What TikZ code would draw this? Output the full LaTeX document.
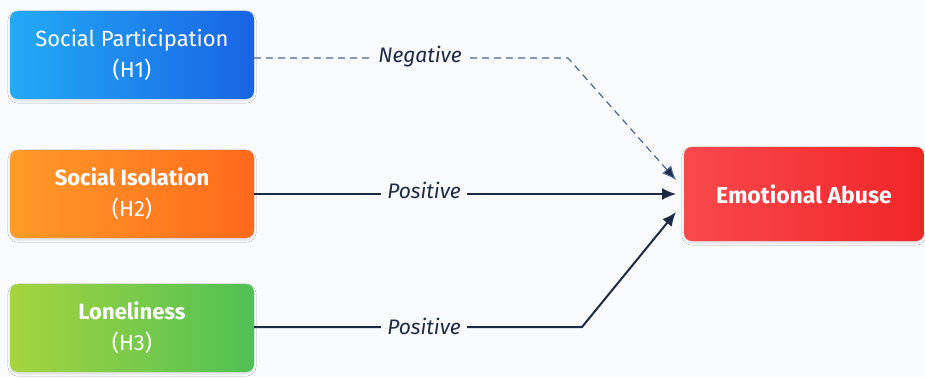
\documentclass[tikz,border=0pt]{standalone}
\usepackage{fontspec}
\setmainfont{Fira Sans}
\usetikzlibrary{arrows.meta,shadows.blur}
\definecolor{bgcol}{HTML}{F9FAFB}
\definecolor{navy}{HTML}{1B2A45}
\definecolor{dashcol}{HTML}{4A6790}
\tikzset{
  box/.style={rounded corners=8pt, minimum width=244pt, minimum height=88pt,
    align=center, text=white, font=\fontsize{22}{31}\selectfont,
    shading=axis, shading angle=120,
    blur shadow={shadow xshift=0pt, shadow yshift=-2pt, shadow blur steps=6, shadow opacity=12}},
  lbl/.style={fill=bgcol, inner xsep=6pt, text=navy, font=\fontsize{21}{24}\selectfont\itshape},
  link/.style={draw=navy, line width=2pt, -{Latex[length=14pt,width=12pt]}},
  dlink/.style={draw=dashcol, line width=1.2pt, dash pattern=on 7pt off 5pt, -{Latex[length=14pt,width=12pt]}, arrows={[fill=navy]}}
}
\begin{document}
\begin{tikzpicture}[x=1pt,y=-1pt]
\fill[bgcol] (0,0) rectangle (925,377);
\useasboundingbox (0,0) rectangle (925,377);
\node[box, left color={rgb,255:red,35;green,170;blue,245}, right color={rgb,255:red,25;green,100;blue,228}] (sp) at (132,55) {Social Participation\\(H1)};
\node[box, left color={rgb,255:red,255;green,155;blue,40}, right color={rgb,255:red,255;green,105;blue,28}] (si) at (132,194) {\textbf{Social Isolation}\\(H2)};
\node[box, left color={rgb,255:red,165;green,212;blue,62}, right color={rgb,255:red,80;green,192;blue,85}] (lo) at (132,328) {\textbf{Loneliness}\\(H3)};
\node[box, minimum width=240pt, minimum height=94pt, font=\fontsize{23}{31}\selectfont, left color={rgb,255:red,250;green,72;blue,76}, right color={rgb,255:red,240;green,38;blue,40}] (ea) at (804,194) {\textbf{Emotional Abuse}};
\coordinate (k1) at (568,58);
\coordinate (k3) at (582,327);
\coordinate (t1) at (676,180);
\coordinate (t2) at (676,194);
\coordinate (t3) at (676,212);
\draw[dlink] (sp.east |- k1) -- (k1) -- (t1);
\draw[link] (si.east) -- (t2);
\draw[link] (lo.east |- k3) -- (k3) -- (t3);
\node[lbl] (neg) at (420,57) {Negative};
\node[lbl] (pos2) at (424,190) {Positive};
\node[lbl] (pos3) at (424,326) {Positive};
\end{tikzpicture}
\end{document}
